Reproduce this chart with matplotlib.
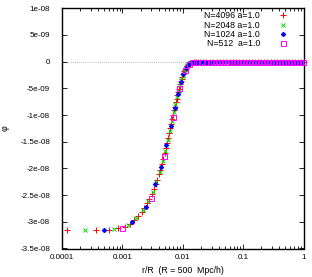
"""
Potential profile phi(r) for several grid resolutions (gnuplot-style look).
"""
import numpy as np
import matplotlib
matplotlib.use("Agg")
import matplotlib.pyplot as plt

plt.rcParams["font.family"] = ["Liberation Sans", "DejaVu Sans"]

PHI_UNIT = 1e-8  # phi lists below are in units of 1e-8

# ---- N=4096 (red +) ----
r_4096 = [0.000122, 0.000366, 0.000610, 0.000854, 0.001099, 0.001343, 0.001587, 0.001831,
          0.002075, 0.002319, 0.002563, 0.002808, 0.003052, 0.003296, 0.003540, 0.003784,
          0.004028, 0.004272, 0.004517, 0.004761, 0.005005, 0.005249, 0.005493, 0.005737,
          0.005981, 0.006226, 0.006470, 0.006714, 0.006958, 0.007202, 0.007446, 0.007690,
          0.007935, 0.008179, 0.008423, 0.008667, 0.008911, 0.009155, 0.009399, 0.009644,
          0.009888, 0.010132, 0.010376, 0.010620, 0.010864, 0.011108, 0.011353, 0.011597,
          0.011841, 0.012085, 0.012329, 0.012573, 0.01306, 0.01355, 0.01428, 0.01526,
          0.01648, 0.0177,
          0.0190, 0.0215, 0.0245, 0.028, 0.032, 0.0365, 0.0415, 0.047, 0.053, 0.060,
          0.068, 0.077, 0.087, 0.098, 0.11, 0.124, 0.14, 0.158, 0.178, 0.2, 0.225,
          0.253, 0.285, 0.32, 0.36, 0.405, 0.455, 0.51, 0.575, 0.645, 0.725, 0.815,
          0.915, 1.0]
phi_4096 = [-3.16, -3.155, -3.145, -3.125, -3.09, -3.04, -2.97, -2.90,
            -2.82, -2.74, -2.65, -2.57, -2.48, -2.39, -2.30, -2.21,
            -2.11, -2.02, -1.92, -1.82, -1.72, -1.62, -1.52, -1.43,
            -1.34, -1.25, -1.16, -1.08, -0.99, -0.91, -0.84, -0.76,
            -0.69, -0.63, -0.57, -0.51, -0.46, -0.41, -0.36, -0.32,
            -0.28, -0.24, -0.21, -0.18, -0.155, -0.13, -0.11, -0.09,
            -0.075, -0.06, -0.05, -0.04, -0.03, -0.025, -0.018, -0.01,
            -0.005, 0.0,
            0.0, 0.0, 0.0, 0.0, 0.0, 0.0, 0.0, 0.0, 0.0, 0.0,
            0.0, 0.0, 0.0, 0.0, 0.0, 0.0, 0.0, 0.0, 0.0, 0.0, 0.0,
            0.0, 0.0, 0.0, 0.0, 0.0, 0.0, 0.0, 0.0, 0.0, 0.0, 0.0,
            0.0, 0.0]

# ---- N=2048 (green x) ----
r_2048 = [0.000244, 0.000732, 0.001221, 0.001709, 0.002197, 0.002686, 0.003174, 0.003662,
          0.004150, 0.004639, 0.005127, 0.005615, 0.006104, 0.006592, 0.007080, 0.007568,
          0.008057, 0.008545, 0.009033, 0.009521, 0.010010, 0.010498, 0.010986, 0.011475,
          0.011963, 0.012451, 0.012939, 0.013428, 0.0144, 0.0154, 0.0164, 0.0173,
          0.0185, 0.0205, 0.023, 0.026, 0.0295, 0.0335, 0.038, 0.043, 0.0485, 0.055,
          0.062, 0.07, 0.079, 0.089, 0.1, 0.113, 0.127, 0.143, 0.161, 0.181, 0.204,
          0.23, 0.259, 0.291, 0.328, 0.369, 0.415, 0.467, 0.526, 0.592, 0.666, 0.75,
          0.844, 0.95]
phi_2048 = [-3.158, -3.135, -3.065, -2.935, -2.78, -2.61, -2.435, -2.255,
            -2.065, -1.87, -1.67, -1.475, -1.295, -1.12, -0.95, -0.80,
            -0.66, -0.54, -0.435, -0.34, -0.26, -0.195, -0.14, -0.10,
            -0.068, -0.045, -0.032, -0.027, -0.017, -0.01, -0.005, 0.0,
            0.0, 0.0, 0.0, 0.0, 0.0, 0.0, 0.0, 0.0, 0.0, 0.0,
            0.0, 0.0, 0.0, 0.0, 0.0, 0.0, 0.0, 0.0, 0.0, 0.0, 0.0,
            0.0, 0.0, 0.0, 0.0, 0.0, 0.0, 0.0, 0.0, 0.0, 0.0, 0.0,
            0.0, 0.0]

# ---- N=1024 (blue *) ----
r_1024 = [0.000488, 0.001465, 0.002441, 0.003418, 0.004395, 0.005371, 0.006348, 0.007324,
          0.008301, 0.009277, 0.010254, 0.011230, 0.012207, 0.013184, 0.01416, 0.01514,
          0.01611, 0.01709,
          0.0181, 0.0201, 0.0225, 0.0252, 0.0285, 0.032, 0.036, 0.0405, 0.0455, 0.051,
          0.0575, 0.0645, 0.0725, 0.0815, 0.0915, 0.103, 0.116, 0.13, 0.146, 0.164,
          0.185, 0.208, 0.234, 0.263, 0.296, 0.333, 0.375, 0.422, 0.475, 0.534, 0.6,
          0.675, 0.76, 0.855, 0.96]
phi_1024 = [-3.15, -3.005, -2.725, -2.295, -1.97, -1.57, -1.20, -0.875,
            -0.60, -0.39, -0.225, -0.12, -0.058, -0.031, -0.017, -0.01,
            -0.005, 0.0,
            0.0, 0.0, 0.0, 0.0, 0.0, 0.0, 0.0, 0.0, 0.0, 0.0,
            0.0, 0.0, 0.0, 0.0, 0.0, 0.0, 0.0, 0.0, 0.0, 0.0,
            0.0, 0.0, 0.0, 0.0, 0.0, 0.0, 0.0, 0.0, 0.0, 0.0, 0.0,
            0.0, 0.0, 0.0, 0.0]

# ---- N=512 (magenta open squares) ----
r_512 = [0.000977, 0.002930, 0.004883, 0.006836, 0.008789, 0.010742, 0.012695, 0.014648,
         0.01660,
         0.0205, 0.0244, 0.0283, 0.0322, 0.0361, 0.04, 0.045, 0.05, 0.056, 0.063,
         0.071, 0.08, 0.09, 0.101, 0.113, 0.127, 0.142, 0.159, 0.178, 0.2, 0.224,
         0.251, 0.281, 0.315, 0.353, 0.395, 0.443, 0.496, 0.556, 0.623, 0.698,
         0.782, 0.876, 0.98]
phi_512 = [-3.115, -2.56, -1.77, -1.04, -0.485, -0.165, -0.042, -0.013,
           -0.004,
           0.0, 0.0, 0.0, 0.0, 0.0, 0.0, 0.0, 0.0, 0.0, 0.0,
           0.0, 0.0, 0.0, 0.0, 0.0, 0.0, 0.0, 0.0, 0.0, 0.0, 0.0,
           0.0, 0.0, 0.0, 0.0, 0.0, 0.0, 0.0, 0.0, 0.0, 0.0,
           0.0, 0.0, 0.0]

labels = ["N=4096 a=1.0", "N=2048 a=1.0", "N=1024 a=1.0", "N=512  a=1.0"]
y_ticks = [1e-8, 5e-9, 0, -5e-9, -1e-8, -1.5e-8, -2e-8, -2.5e-8, -3e-8, -3.5e-8]
y_ticklabels = ["1e-08", "5e-09", "0", "-5e-09", "-1e-08", "-1.5e-08", "-2e-08",
                "-2.5e-08", "-3e-08", "-3.5e-08"]
x_ticks = [1e-4, 1e-3, 1e-2, 1e-1, 1]
x_ticklabels = ["0.0001", "0.001", "0.01", "0.1", "1"]

styles = [
    dict(marker="+", color="#ff0000", mfc="none", ms=4.2, mew=0.7),
    dict(marker="x", color="#00dd00", mfc="none", ms=3.4, mew=0.7),
    dict(marker=(8, 2, 0), color="#0000ff", mfc="none", ms=3.4, mew=0.7),
    dict(marker="s", color="#ff00ff", mfc="none", ms=3.6, mew=0.7),
]
series = [(r_4096, phi_4096), (r_2048, phi_2048), (r_1024, phi_1024), (r_512, phi_512)]

fig = plt.figure(figsize=(3.12, 2.77), dpi=100)
ax = fig.add_axes([62 / 312, 1 - 248.5 / 277, 241.5 / 312, 240.2 / 277])

ax.axhline(0, color="#a0a0a0", ls=(0, (1, 1.5)), lw=0.6, zorder=1)

for (r, phi), st in zip(series, styles):
    ax.plot(r, np.array(phi) * PHI_UNIT, ls="none", zorder=3, clip_on=False, **st)

ax.set_xscale("log")
ax.set_xlim(1e-4, 1)
ax.set_ylim(-3.5e-8, 1e-8)
ax.set_xticks(x_ticks)
ax.set_xticklabels(x_ticklabels)
ax.set_yticks(y_ticks)
ax.set_yticklabels(y_ticklabels)
ax.minorticks_on()
ax.yaxis.set_minor_locator(matplotlib.ticker.NullLocator())
ax.xaxis.set_minor_formatter(matplotlib.ticker.NullFormatter())

ax.tick_params(which="both", direction="in", top=True, right=True, width=0.6,
               labelsize=5.8, colors="black")
ax.tick_params(which="major", length=3.5)
ax.tick_params(which="minor", length=2)
ax.tick_params(axis="y", pad=8.5)
ax.tick_params(axis="x", pad=4)
for sp in ax.spines.values():
    sp.set_linewidth(1.0)

ax.set_xlabel("r/R  (R = 500  Mpc/h)", fontsize=6.3)
ax.xaxis.set_label_coords(0.5, -0.073)
ax.set_ylabel("φ", fontsize=6.3, rotation=90)
ax.yaxis.set_label_coords(-0.215, 0.5)

# gnuplot-style key: right-justified text, sample marker to its right
key_y = [0.971, 0.930, 0.892, 0.855]
for lab, st, ky in zip(labels, styles, key_y):
    ax.text(0.82, ky, lab, transform=ax.transAxes, ha="right", va="center", fontsize=6.3)
    ax.plot([0.915], [ky], transform=ax.transAxes, ls="none", clip_on=False, **st)

fig.savefig("out.png", dpi=100)
